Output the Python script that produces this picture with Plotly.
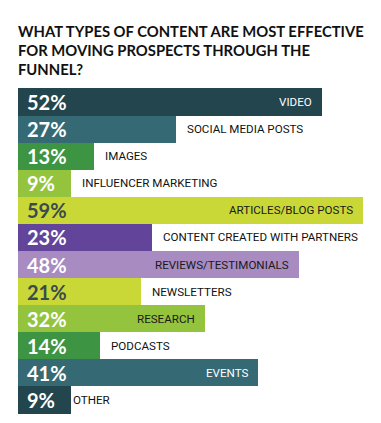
import plotly.graph_objects as go

categories = ["VIDEO", "SOCIAL MEDIA POSTS", "IMAGES", "INFLUENCER MARKETING",
              "ARTICLES/BLOG POSTS", "CONTENT CREATED WITH PARTNERS",
              "REVIEWS/TESTIMONIALS", "NEWSLETTERS", "RESEARCH", "PODCASTS",
              "EVENTS", "OTHER"]
values = [52, 27, 13, 9, 59, 23, 48, 21, 32, 14, 41, 9]
value_labels = ["52%", "27%", "13%", "9%", "59%", "23%", "48%", "21%", "32%", "14%", "41%", "9%"]

bar_colors = ["#23454e", "#356a74", "#3d9443", "#94c43d", "#c9d837", "#62449b",
              "#a88bc1", "#c9d837", "#94c43d", "#3d9443", "#356a74", "#23454e"]
pct_colors = ["#ffffff", "#ffffff", "#ffffff", "#ffffff", "#3b4a4e", "#ffffff",
              "#ffffff", "#3b4a4e", "#ffffff", "#ffffff", "#ffffff", "#ffffff"]
inside_colors = {"VIDEO": "#ffffff", "EVENTS": "#ffffff"}

fig = go.Figure(go.Bar(
    x=values, y=categories, orientation="h",
    marker=dict(color=bar_colors, line=dict(width=0)),
    hoverinfo="skip",
))

annotations = []
pct_family = "Lato, Roboto, sans-serif"
cat_family = "Roboto, sans-serif"
for cat, v, lab, pc in zip(categories, values, value_labels, pct_colors):
    annotations.append(dict(
        x=0, y=cat, xref="x", yref="y", text="<b>" + lab + "</b>", showarrow=False,
        xanchor="left", xshift=7,
        font=dict(family=pct_family, size=20, color=pc),
    ))
    if v >= 30:
        annotations.append(dict(
            x=v, y=cat, xref="x", yref="y", text=cat, showarrow=False,
            xanchor="right", xshift=-8,
            font=dict(family=cat_family, size=11.6, color=inside_colors.get(cat, "#1a1a1a")),
        ))
    else:
        annotations.append(dict(
            x=v, y=cat, xref="x", yref="y", text=cat, showarrow=False,
            xanchor="left", xshift=0 if cat == "OTHER" else 9,
            font=dict(family=cat_family, size=11.6, color="#111111"),
        ))

annotations.append(dict(
    xref="paper", yref="paper", x=0, y=1, yshift=8, xshift=-2, xanchor="left", yanchor="bottom",
    align="left", showarrow=False,
    text="<b>WHAT TYPES OF CONTENT ARE MOST EFFECTIVE<br>FOR MOVING PROSPECTS THROUGH THE<br>FUNNEL?</b>",
    font=dict(family="Lato, Roboto, sans-serif", size=14.8, color="#111111", weight=900),
))

# page body has an 8px default margin, so the figure is sized/offset to compensate
fig.update_layout(
    width=373, height=415,
    margin=dict(l=10, r=0, t=80, b=9, pad=0),
    paper_bgcolor="#ffffff", plot_bgcolor="#ffffff",
    bargap=0,
    showlegend=False,
    xaxis=dict(range=[0, 62.09], visible=False, fixedrange=True),
    yaxis=dict(autorange="reversed", visible=False, fixedrange=True),
    annotations=annotations,
)

fig.write_html("out.html", config={"displayModeBar": False})
